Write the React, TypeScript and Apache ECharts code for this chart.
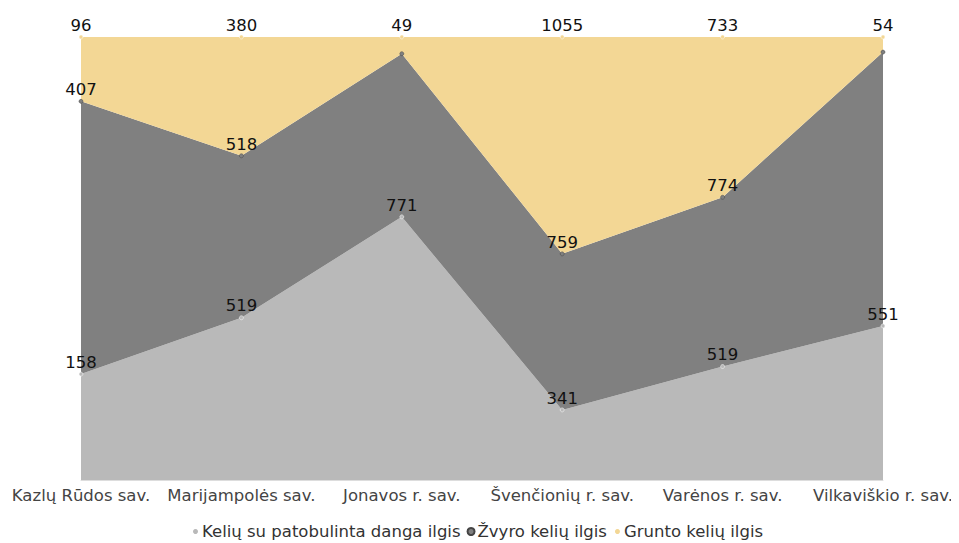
import React, { useEffect, useRef } from "react";
import * as echarts from "echarts";

const categories = [
  "Kazlų Rūdos sav.",
  "Marijampolės sav.",
  "Jonavos r. sav.",
  "Švenčionių r. sav.",
  "Varėnos r. sav.",
  "Vilkaviškio r. sav.",
];
const improved = [158, 519, 771, 341, 519, 551];
const gravel = [407, 518, 478, 759, 774, 979];
const dirt = [96, 380, 49, 1055, 733, 54];
const hiddenGravelLabels = [2, 5];

const seriesNames = ["Kelių su patobulinta danga ilgis", "Žvyro kelių ilgis", "Grunto kelių ilgis"];
const colors = ["#b9b9b9", "#808080", "#f3d795"];

const FONT = "DejaVu Sans";

export default function App() {
  const ref = useRef<HTMLDivElement>(null);
  useEffect(() => {
    if (!ref.current) return;
    const chart = echarts.init(ref.current, undefined, { renderer: "svg" });
    const raw = [improved, gravel, dirt];
    const totals = categories.map((_, i) => improved[i] + gravel[i] + dirt[i]);
    const series = raw.map((arr, si) => ({
      name: seriesNames[si],
      type: "line",
      stack: "total",
      symbol: "circle",
      symbolSize: 4,
      lineStyle: { width: 0 },
      itemStyle: { color: colors[si], borderColor: si === 1 ? "#444" : "#fff", borderWidth: 0.5 },
      areaStyle: { color: colors[si], opacity: 1 },
      data: arr.map((v, i) => ({
        value: (v / totals[i]) * 100,
        raw: v,
        label: si === 1 && hiddenGravelLabels.includes(i) ? { show: false } : undefined,
      })),
      label: {
        show: true,
        position: "top",
        distance: 1,
        color: "#111",
        fontSize: 16.5,
        fontFamily: FONT,
        formatter: (p: any) => String(p.data.raw),
      },
    }));
    chart.setOption({
      animation: false,
      grid: { left: 73, right: 76, top: 29, bottom: 63, containLabel: false, outerBoundsMode: "none" },
      xAxis: {
        type: "category",
        data: categories,
        boundaryGap: false,
        axisLine: { lineStyle: { color: "#ddd" } },
        axisTick: { show: false },
        axisLabel: { color: "#444", fontSize: 16.5, fontFamily: FONT, margin: 7, interval: 0 },
      },
      yAxis: { type: "value", min: 0, max: 100, show: false, splitLine: { show: false } },
      legend: {
        bottom: -2,
        left: 178,
        icon: "circle",
        itemWidth: 7,
        itemHeight: 7,
        itemGap: 6,
        textStyle: { color: "#333", fontSize: 16.5, fontFamily: FONT, padding: [0, 0, 0, -2] },
        data: seriesNames,
      },
      series,
    });
    return () => chart.dispose();
  }, []);
  return <div ref={ref} style={{ width: 951, height: 535 }} />;
}
